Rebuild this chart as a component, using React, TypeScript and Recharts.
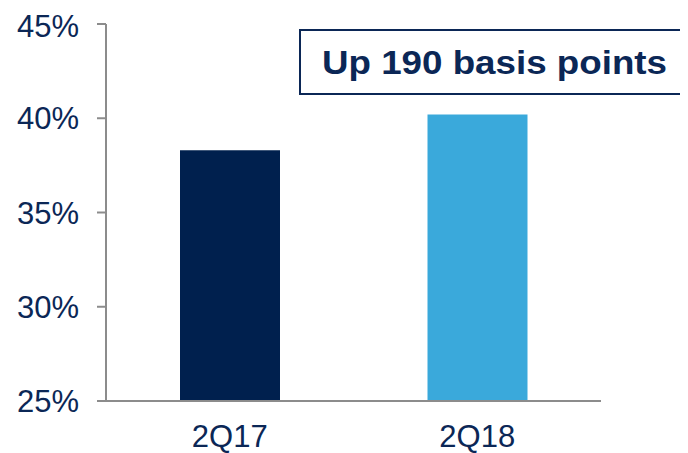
import { BarChart, Bar, XAxis, YAxis, Cell } from "recharts";

const quarters = ["2Q17", "2Q18"];
const margins = [38.3, 40.2];
const barColors = ["#00204E", "#3AA9DB"];
const yTicks = [25, 30, 35, 40, 45];
const callout = "Up 190 basis points";

const data = quarters.map((q, i) => ({ name: q, value: margins[i] }));

const NAVY = "#0B2756";
const AXIS = "#8C8C8C";

export default function App() {
  return (
    <div style={{ position: "relative", width: 680, height: 445 }}>
      <BarChart
        width={680}
        height={445}
        data={data}
        margin={{ top: 16, right: 87, bottom: 12, left: 0 }}
        barSize={100}
      >
        <XAxis
          dataKey="name"
          height={40}
          tickLine={false}
          tickSize={0}
          tickMargin={24}
          axisLine={{ stroke: AXIS, strokeWidth: 2 }}
          tick={{ fill: NAVY, fontSize: 31, fontFamily: "Liberation Sans, Arial, sans-serif" }}
        />
        <YAxis
          width={98}
          domain={[25, 45]}
          ticks={yTicks}
          tickFormatter={(v) => `${v}%`}
          tickSize={9}
          tickMargin={18}
          axisLine={{ stroke: AXIS, strokeWidth: 2 }}
          tickLine={{ stroke: AXIS, strokeWidth: 2 }}
          tick={{ fill: NAVY, fontSize: 31, fontFamily: "Liberation Sans, Arial, sans-serif" }}
        />
        <Bar dataKey="value" isAnimationActive={false}>
          {data.map((d, i) => (
            <Cell key={d.name} fill={barColors[i]} />
          ))}
        </Bar>
      </BarChart>
      <div
        style={{
          position: "absolute",
          left: 291,
          top: 21,
          width: 400,
          height: 62,
          border: `2px solid ${NAVY}`,
          background: "#fff",
          boxSizing: "content-box",
        }}
      >
        <svg width={400} height={62} style={{ display: "block" }}>
          <text
            x={21}
            y={43}
            fill={NAVY}
            fontSize={33}
            fontWeight="bold"
            fontFamily="Liberation Sans, Arial, sans-serif"
            textLength={345}
            lengthAdjust="spacingAndGlyphs"
          >
            {callout}
          </text>
        </svg>
      </div>
    </div>
  );
}
